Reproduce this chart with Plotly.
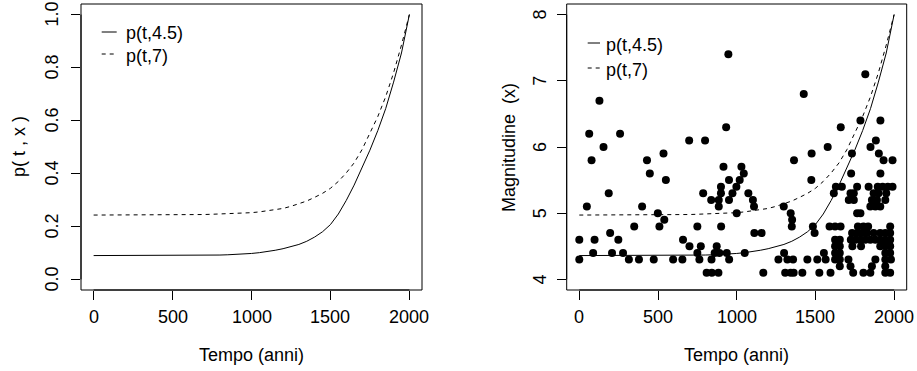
import plotly.graph_objects as go

# ---------------- data ----------------
t_grid = [0, 50, 100, 150, 200, 250, 300, 350, 400, 450, 500, 550, 600, 650, 700, 750, 800,
          850, 900, 950, 1000, 1050, 1100, 1150, 1200, 1250, 1300, 1350, 1400, 1450, 1500,
          1550, 1600, 1650, 1700, 1750, 1800, 1850, 1900, 1950, 2000]
p_45 = [0.090, 0.090, 0.090, 0.090, 0.090, 0.090, 0.090, 0.090, 0.090, 0.090, 0.090,
        0.090, 0.090, 0.090, 0.0905, 0.091, 0.092, 0.093, 0.094, 0.096, 0.098, 0.101,
        0.105, 0.110, 0.116, 0.123, 0.132, 0.144, 0.160, 0.180, 0.207, 0.247, 0.298,
        0.356, 0.420, 0.488, 0.562, 0.645, 0.745, 0.855, 1.000]
p_7 = [0.243, 0.243, 0.243, 0.243, 0.243, 0.243, 0.243, 0.243, 0.243, 0.243, 0.243,
       0.243, 0.244, 0.244, 0.245, 0.246, 0.247, 0.248, 0.249, 0.250, 0.252, 0.255,
       0.259, 0.263, 0.268, 0.276, 0.285, 0.296, 0.310, 0.325, 0.344, 0.370, 0.402,
       0.440, 0.490, 0.550, 0.615, 0.690, 0.780, 0.885, 1.000]

eq_year = [0, 0, 48, 63, 78, 88, 97, 128, 154, 187, 196, 208, 248, 259, 278, 315, 349, 379,
           399, 430, 448, 473, 499, 509, 535, 540, 550,
           596, 655, 659, 698, 700, 750, 750, 763, 772, 787, 799, 809, 838, 840, 842, 860,
           873, 884, 886, 886, 890, 900, 900, 901, 916, 933, 937, 947, 951, 951, 952, 973,
           998, 1000, 1019, 1030, 1045, 1051, 1074, 1103, 1110,
           1112, 1158, 1169, 1265, 1299, 1301, 1308, 1322, 1343, 1343, 1352, 1350, 1358,
           1362, 1364, 1417, 1426, 1449, 1474, 1476, 1484, 1495, 1512, 1525, 1554, 1565, 1578,
           1661, 1786, 1913, 1817, 1884, 1850, 1732, 1903, 1933, 1990, 1727, 1913,
           1630, 1668, 1765, 1838, 1896, 1927, 1960, 1990,
           1617, 1723, 1744, 1870, 1901, 1950,
           1712, 1744, 1859, 1891, 1944,
           1849, 1881, 1912,
           1765, 1786,
           1590, 1625, 1660, 1770, 1805, 1835, 1975,
           1733, 1765, 1796, 1828, 1870, 1912, 1944, 1975,
           1625, 1655, 1725, 1755, 1786, 1817, 1849, 1881, 1912, 1944, 1975,
           1625, 1655, 1735, 1790, 1912, 1944, 1975,
           1625, 1655, 1944, 1975,
           1625, 1655, 1710, 1881, 1944, 1980,
           1655, 1723, 1859, 1944,
           1596, 1740, 1805, 1849, 1944, 1975]
eq_mag = [4.6, 4.3, 5.1, 6.2, 5.8, 4.4, 4.6, 6.7, 6.0, 5.3, 4.7, 4.4, 4.6, 6.2, 4.4, 4.3, 4.8, 4.3,
          5.1, 5.8, 5.6, 4.3, 5.0, 4.8, 5.9, 4.9, 5.5,
          4.3, 4.3, 4.6, 6.1, 4.5, 4.8, 4.4, 4.3, 4.5, 5.3, 6.1, 4.1, 5.2, 4.3, 4.1, 4.4,
          4.5, 4.1, 5.2, 5.1, 4.4, 5.4, 5.3, 4.8, 5.7, 6.3, 4.4, 7.4, 5.5, 5.2, 4.3, 5.3,
          5.4, 5.0, 5.5, 5.7, 5.6, 4.4, 5.3, 5.2, 5.1,
          4.7, 4.7, 4.1, 4.3, 5.1, 4.4, 4.1, 4.3, 5.0, 4.1, 4.9, 4.8, 4.3,
          4.1, 5.8, 4.1, 6.8, 4.3, 5.5, 5.9, 4.8, 4.7, 4.3, 4.1, 4.4, 4.3, 6.0,
          6.3, 6.4, 6.4, 7.1, 6.1, 6.0, 5.9, 5.9, 5.8, 5.8, 5.6, 5.6,
          5.4, 5.4, 5.4, 5.4, 5.4, 5.4, 5.4, 5.4,
          5.3, 5.3, 5.3, 5.3, 5.3, 5.3,
          5.2, 5.2, 5.2, 5.2, 5.2,
          5.1, 5.1, 5.1,
          5.0, 5.0,
          4.8, 4.8, 4.8, 4.8, 4.8, 4.8, 4.8,
          4.7, 4.7, 4.7, 4.7, 4.7, 4.7, 4.7, 4.7,
          4.6, 4.6, 4.6, 4.6, 4.6, 4.6, 4.6, 4.6, 4.6, 4.6, 4.6,
          4.5, 4.5, 4.5, 4.5, 4.5, 4.5, 4.5,
          4.4, 4.4, 4.4, 4.4,
          4.3, 4.3, 4.3, 4.3, 4.3, 4.3,
          4.2, 4.2, 4.2, 4.2,
          4.1, 4.1, 4.1, 4.1, 4.1, 4.1]

x_ticks = [0, 500, 1000, 1500, 2000]
x_labels = ["0", "500", "1000", "1500", "2000"]
y1_ticks = [0.0, 0.2, 0.4, 0.6, 0.8, 1.0]
y1_labels = ["0.0", "0.2", "0.4", "0.6", "0.8", "1.0"]
y2_ticks = [4, 5, 6, 7, 8]
y2_labels = ["4", "5", "6", "7", "8"]
legend_labels = ["p(t,4.5)", "p(t,7)"]
x_title = "Tempo (anni)"
y1_title = "p( t , x )"
y2_title = "Magnitudine\u00a0\u00a0(x)"

# right panel curves on the magnitude scale (4 + 4p)
mag_45 = [4 + 4 * v for v in p_45]
mag_7 = [4 + 4 * v for v in p_7]

# ---------------- figure ----------------
W, H = 917, 371
FONT = "Liberation Sans, Arial, sans-serif"
FS = 18
TXT = dict(family=FONT, size=FS, color="black")

def px(x):
    return x / W

def py(y):
    return 1 - y / H

L1, R1 = 81, 422
L2, R2 = 566.7, 906.7
TOP, BOT = 4, 290

fig = go.Figure()
solid = dict(color="black", width=1)
dashed = dict(color="black", width=1, dash="4px,4px")

fig.add_trace(go.Scatter(x=t_grid, y=p_45, mode="lines", line=solid, xaxis="x", yaxis="y"))
fig.add_trace(go.Scatter(x=t_grid, y=p_7, mode="lines", line=dashed, xaxis="x", yaxis="y"))
fig.add_trace(go.Scatter(x=eq_year, y=eq_mag, mode="markers",
                         marker=dict(color="black", size=8, line=dict(width=0)),
                         xaxis="x2", yaxis="y2"))
fig.add_trace(go.Scatter(x=t_grid, y=mag_45, mode="lines", line=solid, xaxis="x2", yaxis="y2"))
fig.add_trace(go.Scatter(x=t_grid, y=mag_7, mode="lines", line=dashed, xaxis="x2", yaxis="y2"))

xcommon = dict(range=[-80, 2080], tickvals=x_ticks, ticks="outside", ticklen=9,
               tickcolor="black", tickwidth=1, showgrid=False, zeroline=False,
               showline=False, showticklabels=False)
ycommon = dict(ticks="outside", ticklen=9, tickcolor="black", tickwidth=1,
               showgrid=False, zeroline=False, showline=False, showticklabels=False)

fig.update_layout(
    width=W, height=H, margin=dict(l=0, r=0, t=0, b=0),
    paper_bgcolor="white", plot_bgcolor="white", showlegend=False,
    xaxis=dict(domain=[px(L1), px(R1)], anchor="y", **xcommon),
    yaxis=dict(domain=[py(BOT), py(TOP)], anchor="x", range=[-0.04, 1.04],
               tickvals=y1_ticks, **ycommon),
    xaxis2=dict(domain=[px(L2), px(R2)], anchor="y2", **xcommon),
    yaxis2=dict(domain=[py(BOT), py(TOP)], anchor="x2", range=[3.84, 8.16],
                tickvals=y2_ticks, **ycommon),
)

shapes = []
annotations = []
for xa, ya, yt, yl, lab_x in [("x", "y", y1_ticks, y1_labels, 52),
                              ("x2", "y2", y2_ticks, y2_labels, 540)]:
    shapes.append(dict(type="rect", xref=f"{xa} domain", yref=f"{ya} domain",
                       x0=0, x1=1, y0=0, y1=1, line=dict(color="black", width=1)))
    shapes.append(dict(type="line", xref=xa, yref=f"{ya} domain",
                       x0=x_ticks[0], x1=x_ticks[-1], y0=0, y1=0,
                       line=dict(color="black", width=1)))
    shapes.append(dict(type="line", xref=f"{xa} domain", yref=ya,
                       x0=0, x1=0, y0=yt[0], y1=yt[-1],
                       line=dict(color="black", width=1)))
    for v, s in zip(x_ticks, x_labels):
        annotations.append(dict(text=s, x=v, y=py(317), xref=xa, yref="paper",
                                xanchor="center", yanchor="middle", showarrow=False, font=TXT))
    for v, s in zip(yt, yl):
        annotations.append(dict(text=s, x=px(lab_x), y=v, xref="paper", yref=ya,
                                xanchor="center", yanchor="middle", textangle=-90,
                                showarrow=False, font=TXT))

# legends
for (lx0, lx1, tx, rows) in [(101.7, 116.7, 124, (32, 54)), (587.7, 600.0, 604, (43, 68))]:
    for i, (lab, r) in enumerate(zip(legend_labels, rows)):
        line = dict(color="black", width=1)
        if i == 1:
            line["dash"] = "4px,4px"
        shapes.append(dict(type="line", xref="paper", yref="paper",
                           x0=px(lx0), x1=px(lx1), y0=py(r), y1=py(r), line=line))
        annotations.append(dict(text=lab, x=px(tx), y=py(r + 1.5), xref="paper", yref="paper",
                                xanchor="left", yanchor="middle", showarrow=False, font=TXT))

# axis titles
for cx in [(L1 + R1) / 2, (L2 + R2) / 2]:
    annotations.append(dict(text=x_title, x=px(cx), y=py(355), xref="paper", yref="paper",
                            xanchor="center", yanchor="middle", showarrow=False, font=TXT))
for cx, txt in [(19, y1_title), (509, y2_title)]:
    annotations.append(dict(text=txt, x=px(cx), y=py((TOP + BOT) / 2), xref="paper",
                            yref="paper", xanchor="center", yanchor="middle",
                            showarrow=False, textangle=-90, font=TXT))

fig.update_layout(shapes=shapes, annotations=annotations)
fig.write_html("out.html", config={"displayModeBar": False},
               post_script="document.body.style.margin='0';document.body.style.padding='0';")
